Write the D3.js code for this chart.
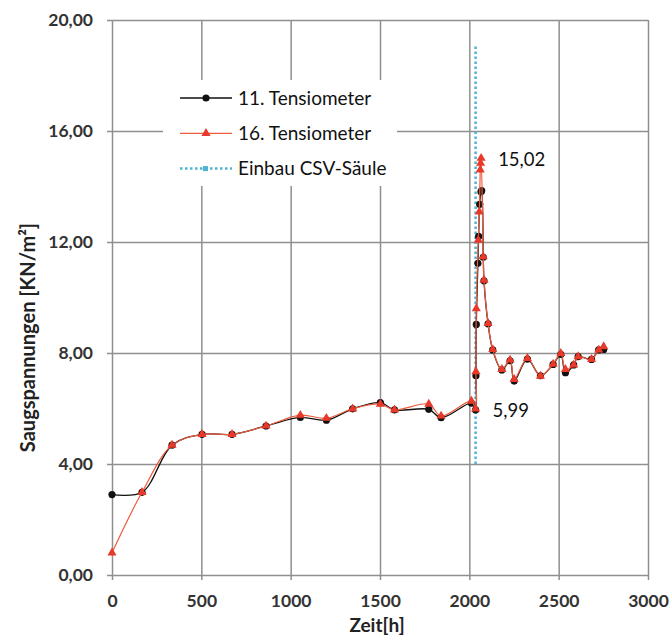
<!DOCTYPE html>
<html>
<head>
<meta charset="utf-8">
<script src="https://cdn.jsdelivr.net/npm/d3@7"></script>
<style>
    body { margin: 0; background: #fff; }
    text { font-family: Lato, "Open Sans", sans-serif; }
    .tick-label { font-size: 17.5px; font-weight: bold; fill: #333; }
    .axis-title { font-size: 20px; font-weight: bold; fill: #222; }
    .x-title { font-size: 19px; }
    .legend-label { font-size: 19px; fill: #111; }
    .note { font-size: 18.5px; fill: #111; }
</style>
</head>
<body>
<div id="chart"></div>
<script>
// values
const hours11 = [0, 168, 336, 504, 672, 862, 1054, 1200, 1347, 1502, 1581, 1773, 1842, 2012, 2035, 2037, 2039, 2048, 2052, 2058,
    2065, 2069, 2078, 2082, 2105, 2131, 2182, 2228, 2251, 2325, 2398, 2469, 2512, 2538, 2584, 2609, 2684, 2724, 2752];
const values11 = [2.9, 2.98, 4.68, 5.07, 5.07, 5.37, 5.68, 5.58, 5.99, 6.21, 5.95, 5.97, 5.67, 6.19, 5.95, 7.18, 9.03, 11.23, 12.2, 13.36,
    13.81, 13.85, 11.45, 10.6, 9.05, 8.11, 7.39, 7.72, 6.99, 7.78, 7.18, 7.59, 7.95, 7.29, 7.57, 7.87, 7.77, 8.11, 8.13];

const hours16 = [0, 168, 336, 504, 672, 862, 1054, 1200, 1347, 1502, 1581, 1773, 1842, 2012, 2035, 2037, 2039, 2050, 2056, 2061,
    2063, 2066, 2078, 2082, 2105, 2131, 2182, 2228, 2251, 2325, 2398, 2469, 2512, 2538, 2584, 2609, 2684, 2724, 2752];
const values16 = [0.8, 2.98, 4.68, 5.07, 5.07, 5.37, 5.76, 5.65, 5.99, 6.16, 5.95, 6.16, 5.73, 6.27, 5.99, 7.33, 9.6, 12.07, 13.09, 14.6,
    14.84, 15.02, 11.47, 10.63, 9.07, 8.13, 7.41, 7.75, 7.05, 7.81, 7.17, 7.6, 7.99, 7.41, 7.57, 7.87, 7.77, 8.11, 8.23];

// vertical marker line (installation of the column)
const csvHours = [2035, 2035];
const csvValues = [4, 19.1];

const xTicks = [0, 500, 1000, 1500, 2000, 2500, 3000];
const yTicks = [0, 4, 8, 12, 16, 20];

const seriesNames = ['11. Tensiometer', '16. Tensiometer', 'Einbau CSV-Säule'];

// labelled points: [hour, value, text]
const notes = [
    [2066, 15.02, '15,02'],
    [2035, 5.99, '5,99']
];

class LineChart {

    constructor(_config) {
        this.config = {
            parentElement: _config.parentElement,
            containerWidth: 670,
            containerHeight: 643,
            margin: {top: 20, right: 22, bottom: 68, left: 112},
            legendLeft: 163,
            legendTop: 80
        };
        this.initVis();
    }

    initVis() {
        let vis = this;

        vis.width = vis.config.containerWidth - vis.config.margin.left - vis.config.margin.right;
        vis.height = vis.config.containerHeight - vis.config.margin.top - vis.config.margin.bottom;

        vis.svg = d3.select(vis.config.parentElement).append('svg')
            .attr('width', vis.config.containerWidth)
            .attr('height', vis.config.containerHeight);

        vis.chart = vis.svg.append('g')
            .attr('transform', `translate(${vis.config.margin.left},${vis.config.margin.top})`);

        vis.xScale = d3.scaleLinear().domain([0, 3000]).range([0, vis.width]);
        vis.yScale = d3.scaleLinear().domain([0, 20]).range([vis.height, 0]);

        vis.renderVis();
    }

    renderVis() {
        let vis = this;
        const gridColor = '#8f8f8f';

        // gridlines + ticks
        const xAxis = d3.axisBottom(vis.xScale).tickValues(xTicks)
            .tickSize(-vis.height).tickFormat(d3.format('d'));
        const xg = vis.chart.append('g')
            .attr('transform', `translate(0,${vis.height})`)
            .call(xAxis);
        xg.select('.domain').remove();
        xg.selectAll('line').attr('stroke', gridColor).attr('stroke-width', 1.5)
            .attr('y2', -vis.height).attr('y1', 5);
        xg.selectAll('text').attr('class', 'tick-label')
            .attr('y', 31.5).attr('dy', null);

        const yAxis = d3.axisLeft(vis.yScale).tickValues(yTicks)
            .tickSize(-vis.width)
            .tickFormat(d => d3.format('.2f')(d).replace('.', ','));
        const yg = vis.chart.append('g').call(yAxis);
        yg.select('.domain').remove();
        yg.selectAll('line').attr('stroke', gridColor).attr('stroke-width', 1.5)
            .attr('x1', -5);
        yg.selectAll('text').attr('class', 'tick-label').attr('x', -19);

        // axis titles
        vis.chart.append('text')
            .attr('class', 'axis-title x-title')
            .attr('text-anchor', 'middle')
            .attr('x', vis.xScale(1500) - 3)
            .attr('y', vis.height + 57)
            .text('Zeit[h]');

        vis.chart.append('text')
            .attr('class', 'axis-title')
            .attr('text-anchor', 'middle')
            .attr('transform', `translate(${-77},${vis.yScale(10) + 40}) rotate(-90)`)
            .text('Saugspannungen [KN/m²]');

        // CSV column line
        vis.chart.append('line')
            .attr('x1', vis.xScale(csvHours[0])).attr('x2', vis.xScale(csvHours[1]))
            .attr('y1', vis.yScale(csvValues[0])).attr('y2', vis.yScale(csvValues[1]))
            .attr('stroke', '#4fb3d1')
            .attr('stroke-width', 2.5)
            .attr('stroke-dasharray', '2.5,2.5');

        const line = d3.line()
            .x(d => vis.xScale(d[0]))
            .y(d => vis.yScale(d[1]))
            .curve(d3.curveCatmullRom.alpha(0.5));

        const data11 = hours11.map((h, i) => [h, values11[i]]);
        const data16 = hours16.map((h, i) => [h, values16[i]]);

        vis.chart.append('path')
            .datum(data11)
            .attr('fill', 'none')
            .attr('stroke', '#111')
            .attr('stroke-width', 1.3)
            .attr('d', line);

        vis.chart.selectAll('.dot11')
            .data(data11)
            .join('circle')
            .attr('class', 'dot11')
            .attr('cx', d => vis.xScale(d[0]))
            .attr('cy', d => vis.yScale(d[1]))
            .attr('r', 3.6)
            .attr('fill', '#111');

        vis.chart.append('path')
            .datum(data16)
            .attr('fill', 'none')
            .attr('stroke', '#ee5b3b')
            .attr('stroke-width', 1.2)
            .attr('d', line);

        const tri = d3.symbol().type(d3.symbolTriangle).size(36);
        vis.chart.selectAll('.tri16')
            .data(data16)
            .join('path')
            .attr('class', 'tri16')
            .attr('transform', d => `translate(${vis.xScale(d[0])},${vis.yScale(d[1])})`)
            .attr('d', tri)
            .attr('fill', '#e8392a');

        // notes
        vis.chart.selectAll('.note')
            .data(notes)
            .join('text')
            .attr('class', 'note')
            .attr('x', d => vis.xScale(d[0]) + 17)
            .attr('y', d => vis.yScale(d[1]) + 8)
            .text(d => d[2]);

        // legend
        const legend = vis.svg.append('g')
            .attr('transform', `translate(${vis.config.legendLeft},${vis.config.legendTop})`);

        legend.append('rect')
            .attr('width', 234).attr('height', 106)
            .attr('fill', '#fff');

        const rows = legend.selectAll('.row')
            .data(seriesNames)
            .join('g')
            .attr('class', 'row')
            .attr('transform', (d, i) => `translate(17,${18 + i * 35.3})`);

        rows.append('line')
            .attr('x1', 0).attr('x2', 52)
            .attr('stroke', (d, i) => ['#111', '#ee5b3b', '#4fb3d1'][i])
            .attr('stroke-width', (d, i) => [1.3, 1.2, 2.5][i])
            .attr('stroke-dasharray', (d, i) => i === 2 ? '2.5,2.5' : null);

        rows.filter((d, i) => i === 0).append('circle')
            .attr('cx', 26).attr('r', 3.6).attr('fill', '#111');
        rows.filter((d, i) => i === 1).append('path')
            .attr('transform', 'translate(26,0)')
            .attr('d', tri).attr('fill', '#e8392a');
        rows.filter((d, i) => i === 2).append('rect')
            .attr('x', 23).attr('y', -2.5).attr('width', 5).attr('height', 5).attr('fill', '#4fb3d1');

        rows.append('text')
            .attr('class', 'legend-label')
            .attr('x', 58)
            .attr('dy', '0.35em')
            .text(d => d);
    }
}

new LineChart({parentElement: '#chart'});
</script>
</body>
</html>
